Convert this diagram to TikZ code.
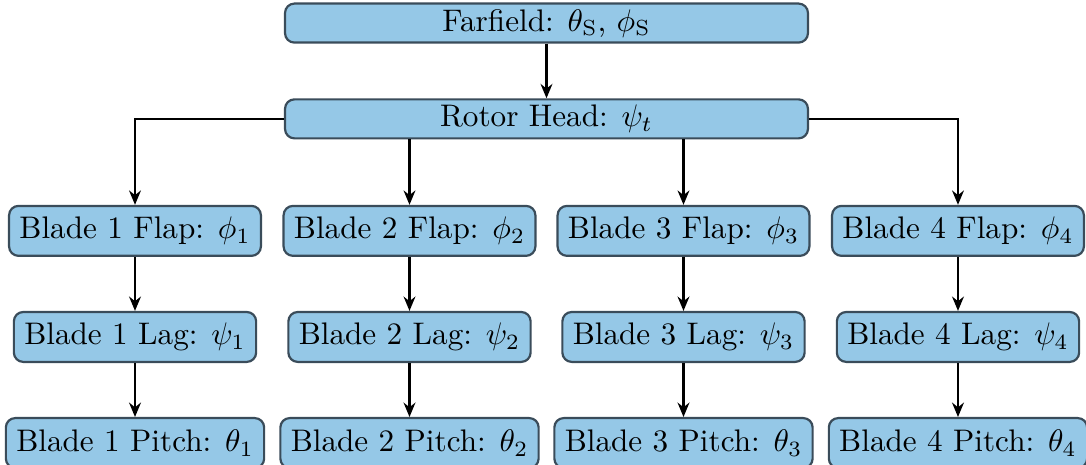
\documentclass[tikz,border=0pt]{standalone}
\usetikzlibrary{arrows.meta}
\definecolor{boxfill}{RGB}{149,200,231}
\definecolor{boxline}{RGB}{58,76,90}
\begin{document}
\begin{tikzpicture}[x=1pt,y=-1pt,
  box/.style={draw=boxline, fill=boxfill, line width=0.7pt, rounded corners=3pt,
              minimum height=16pt, inner sep=3.33pt},
  widebox/.style={box, minimum width=167.6pt, minimum height=12.5pt, inner sep=1pt},
  link/.style={-{Stealth[length=4.6pt,width=3.8pt]}, line width=0.7pt}]
\useasboundingbox (0,0) rectangle (348.08,149.04);

% top of the tree
\node[widebox] (far) at (175.16,7.4) {Farfield: $\theta_{\mathrm{S}}$, $\phi_{\mathrm{S}}$};
\node[widebox] (rot) at (175.16,38.1) {Rotor Head: $\psi_t$};

% one column per blade: flap, lag, pitch
\foreach \i/\x in {1/43.27, 2/131.25, 3/219.07, 4/307.05} {
  \node[box] (flap\i) at (\x,74.0) {Blade \i\ Flap: $\phi_\i$};
  \node[box] (lag\i) at (\x,108.0) {Blade \i\ Lag: $\psi_\i$};
  \node[box] (pitch\i) at (\x,142.0) {Blade \i\ Pitch: $\theta_\i$};
}

% connectors
\draw[link] (far) -- (rot);
\draw[link] (rot.west) -| (flap1);
\draw[link] (rot.south -| flap2) -- (flap2);
\draw[link] (rot.south -| flap3) -- (flap3);
\draw[link] (rot.east) -| (flap4);
\foreach \i in {1,2,3,4} {
  \draw[link] (flap\i) -- (lag\i);
  \draw[link] (lag\i) -- (pitch\i);
}
\end{tikzpicture}
\end{document}
